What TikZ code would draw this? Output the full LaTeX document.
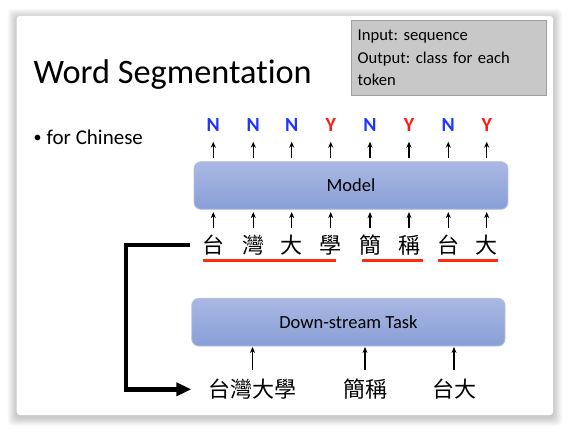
\documentclass[tikz,border=0pt]{standalone}
\usepackage{fontspec}
\setmainfont{Carlito}[Ligatures=NoCommon]
\newfontfamily\cjk{Noto Sans CJK TC}
\usetikzlibrary{arrows.meta, positioning, calc}
\definecolor{boxtop}{HTML}{AAB8E2}
\definecolor{boxbot}{HTML}{899FD8}
\definecolor{boxline}{HTML}{B4C1E8}
\definecolor{tagblue}{HTML}{1F36FF}
\definecolor{tagred}{HTML}{FF1A10}
\definecolor{segred}{HTML}{FF2A10}
\definecolor{notegray}{HTML}{C8C8C8}
\frenchspacing

\begin{document}
\begin{tikzpicture}[
  x=1pt, y=-1pt,
  blockbox/.style={draw=boxline, line width=0.8pt, rounded corners=7pt,
    top color=boxtop, bottom color=boxbot, inner sep=0pt,
    font=\fontsize{18.5}{20}\selectfont},
  tag/.style={font=\fontsize{20}{22}\selectfont\bfseries, inner sep=0pt,
    text height=13pt, text depth=0pt},
  hanzi/.style={font=\cjk\fontsize{22}{24}\selectfont, inner sep=0pt,
    text height=19pt, text depth=2pt},
  arr/.style={-{Stealth[length=6pt, width=5pt]}, line width=1.4pt},
  seg/.style={segred, line width=3pt},
  bracket/.style={-{Triangle[length=15pt, width=13pt]}, line width=4.5pt},
]
  \fill[white] (0,0) rectangle (570,433);
  \foreach \d in {1,...,9}
    \fill[black, opacity=0.022, rounded corners=4pt]
      (16.7-\d,16-\d+2) rectangle (553+\d,415+\d+2);
  \fill[white, rounded corners=3pt] (16.7,16) rectangle (553,415);

  \node[anchor=base west, inner sep=0pt, font=\fontsize{34.3}{40}\selectfont]
    (title) at (33.3,83.3) {Word Segmentation};
  \node[anchor=north west, fill=notegray, draw=gray!75, line width=0.6pt,
    minimum width=194.7pt, minimum height=75pt, inner xsep=6pt, inner ysep=0pt,
    text width=182pt, align=left, font=\fontsize{16.6}{22.2}\selectfont]
    (note) at (351,20) {Input: sequence\\Output: class for each\\token};
  \node[anchor=base west, inner sep=0pt, font=\fontsize{21}{24}\selectfont]
    (bullet) at (33.5,145)
    {\raisebox{2.2pt}{\fontsize{16}{16}\selectfont•}\hspace{5pt}for Chinese};

  \node[blockbox, minimum width=314pt, minimum height=47.6pt]
    (model) at (351,185.5) {Model};
  \node[blockbox, minimum width=313.3pt, minimum height=47.7pt]
    (task) at (348.4,322.2) {Down-stream Task};

  \foreach \x/\t/\c/\h [count=\i] in {213.3/N/tagblue/台, 253.3/N/tagblue/灣,
      291.7/N/tagblue/大, 330.7/Y/tagred/學, 370/N/tagblue/簡,
      409/Y/tagred/稱, 448.3/N/tagblue/台, 486.7/Y/tagred/大} {
    \node[tag, text=\c] (t\i) at (\x,125) {\t};
    \node[hanzi] (c\i) at (\x,245) {\h};
    \draw[arr, shorten <=3pt, shorten >=10pt] (model.north -| t\i) -- (t\i.south);
    \draw[arr, shorten <=6.5pt, shorten >=2.4pt] (c\i.north) -- (model.south -| c\i);
  }

  \draw[seg] ($(c1.south west)+(1,5.2)$) -- ($(c4.south east)+(-5.5,5.2)$);
  \draw[seg] ($(c5.south west)+(2.7,5.2)$) -- ($(c6.south east)+(2.7,5.2)$);
  \draw[seg] ($(c7.south west)+(0.4,5.2)$) -- ($(c8.south east)+(0.3,5.2)$);

  \node[hanzi] (w1) at (252.5,389.3) {台灣大學};
  \node[hanzi] (w2) at (365,389.3) {簡稱};
  \node[hanzi] (w3) at (454,389.3) {台大};
  \foreach \i in {1,2,3}
    \draw[arr, shorten <=8.8pt, shorten >=0.5pt] (w\i.north) -- (task.south -| w\i);

  \coordinate (bend) at (126,245);
  \draw[bracket, shorten >=17pt] ([xshift=-12pt]c1.west) -- (bend) |- (w1.west);
\end{tikzpicture}
\end{document}
